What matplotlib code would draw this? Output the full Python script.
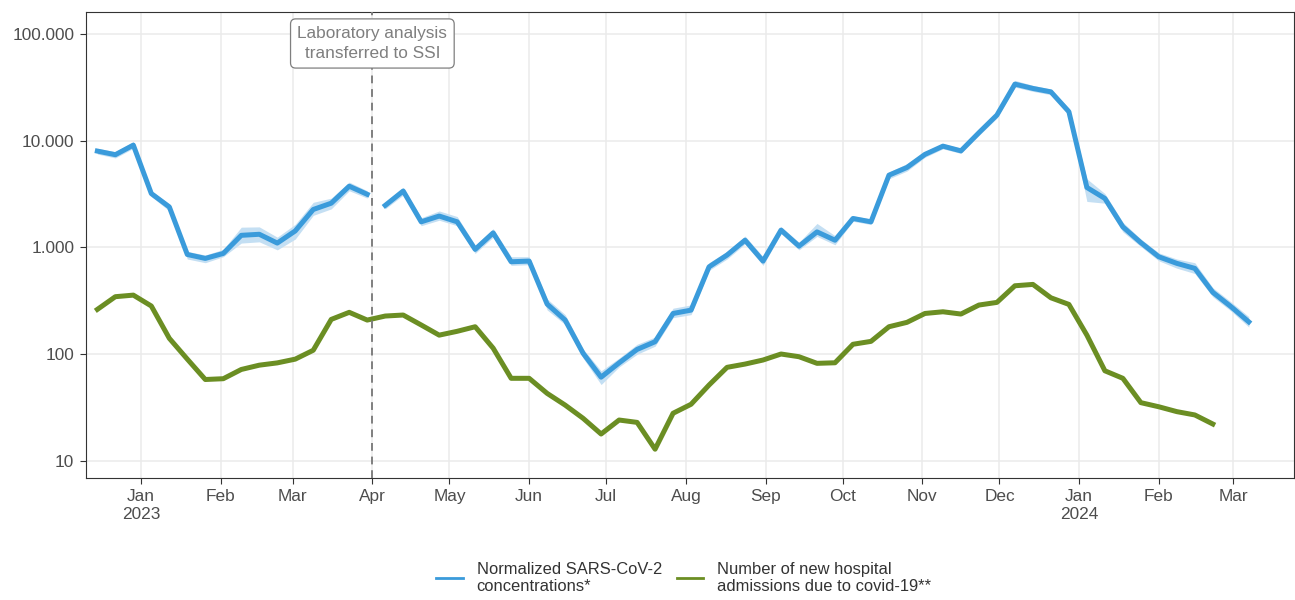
"""Wastewater SARS-CoV-2 concentrations vs. new covid-19 hospital admissions."""

import matplotlib
matplotlib.use("Agg")
import matplotlib.pyplot as plt
from matplotlib.lines import Line2D
import numpy as np
import pandas as pd

# weekly values (week midpoint, Thursdays)
first_week = "2022-12-15"
switch_date = pd.Timestamp("2023-04-01")

blue = [8000, 7400, 9100, 3200, 2400, 860, 790, 880, 1300, 1330, 1100, 1430,
        2270, 2600, 3750, 3150, 2480, 3380, 1740, 1970, 1740, 960, 1370, 735,
        746, 295, 209, 102, 61, 83, 111, 131, 241, 259, 659, 850, 1170, 746,
        1455, 1030, 1400, 1170, 1870, 1740, 4760, 5620, 7450, 8900, 8040,
        11900, 17400, 33900, 30900, 28700, 18700, 3650, 2880, 1560, 1110, 818,
        710, 637, 380, 280, 201]
blue_lo = [7500, 6900, 8500, 3000, 2200, 780, 720, 820, 1100, 1130, 950, 1200,
           2000, 2300, 3400, 2900, 2300, 3100, 1600, 1800, 1600, 880, 1250, 680,
           690, 260, 190, 92, 52, 76, 100, 119, 220, 235, 610, 780, 1080, 680,
           1350, 950, 1270, 1060, 1760, 1640, 4400, 5200, 7000, 8400, 7600,
           11200, 16300, 31800, 29000, 27000, 17300, 2700, 2600, 1400, 1020, 750,
           640, 570, 345, 255, 180]
blue_hi = [8500, 7900, 9800, 3400, 2550, 920, 850, 960, 1550, 1560, 1250, 1650,
           2650, 2900, 4100, 3400, 2650, 3650, 1900, 2200, 1950, 1050, 1500, 820,
           820, 330, 235, 112, 70, 92, 124, 145, 270, 290, 720, 920, 1280, 820,
           1570, 1120, 1680, 1290, 1980, 1850, 5100, 6100, 7900, 9400, 8500,
           12600, 18500, 36800, 33000, 30500, 20200, 4400, 3200, 1720, 1200, 890,
           780, 720, 420, 310, 225]

green = [263, 346, 358, 283, 141, 90, 58, 59, 72, 79, 83, 90, 109, 212, 247,
         209, 228, 233, 188, 151, 164, 181, 114, 59.5, 59.5, 43, 33.4, 25.1,
         17.9, 24.2, 23.0, 12.9, 28.0, 34.0, 51.5, 75.4, 80.9, 88.3, 100.5, 94.8,
         82.2, 83.2, 124, 132, 181, 199, 241, 250, 238, 289, 306, 438, 451, 338,
         293, 151, 70, 59.5, 35.2, 32.2, 29.0, 27.0, 22.2]

y_ticks = [10, 100, 1000, 10000, 100000]
y_labels = ["10", "100", "1.000", "10.000", "100.000"]

BLUE = "#3a9bdb"
BAND = "#c4dff3"
GREEN = "#6b8e23"
TXT = "#4d4d4d"

plt.rcParams["font.family"] = ["Liberation Sans", "DejaVu Sans"]


def main() -> None:
    dates_b = pd.date_range(first_week, periods=len(blue), freq="7D")
    dates_g = pd.date_range(first_week, periods=len(green), freq="7D")
    b = np.asarray(blue, dtype=float)
    lo = np.asarray(blue_lo, dtype=float)
    hi = np.asarray(blue_hi, dtype=float)

    fig = plt.figure(figsize=(12.95, 6.0), dpi=100)
    ax = fig.add_axes([86 / 1295, 1 - 478 / 600, 1 - 86 / 1295 - 1 / 1295, (478 - 12) / 600])

    before = dates_b < switch_date
    for m in (before, ~before):
        ax.fill_between(dates_b[m], lo[m], hi[m], color=BAND, lw=0, zorder=2)
        ax.plot(dates_b[m], b[m], color=BLUE, lw=3.6, zorder=3)
    ax.plot(dates_g, green, color=GREEN, lw=3.6, zorder=3)

    ax.axvline(switch_date, color="#7f7f7f", lw=1.4, ls=(0, (4, 3)), zorder=4)
    ax.text(switch_date, 81500, "Laboratory analysis\ntransferred to SSI",
            ha="center", va="center", fontsize=12.4, color="#7f7f7f", linespacing=1.45,
            zorder=5,
            bbox=dict(boxstyle="round,pad=0.4,rounding_size=0.3", fc="white",
                      ec="#7f7f7f", lw=0.9))

    ax.set_yscale("log")
    ax.set_ylim(6.93, 160700)
    ax.yaxis.set_major_locator(matplotlib.ticker.FixedLocator(y_ticks))
    ax.yaxis.set_major_formatter(matplotlib.ticker.FixedFormatter(y_labels))
    ax.yaxis.set_minor_locator(matplotlib.ticker.NullLocator())

    ax.set_xlim(pd.Timestamp("2022-12-10 14:00"), pd.Timestamp("2024-03-24 14:00"))
    months = pd.date_range("2023-01-01", "2024-03-01", freq="MS")
    ax.set_xticks(months)
    ax.set_xticklabels([m.strftime("%b") + ("\n%d" % m.year if m.month == 1 else "")
                        for m in months])

    ax.grid(True, color="#ebebeb", lw=1.1, zorder=0)
    ax.set_axisbelow(True)
    for s in ax.spines.values():
        s.set_color("#333333")
        s.set_linewidth(0.8)
    ax.tick_params(axis="both", colors="#333333", labelcolor=TXT, labelsize=12.4,
                   length=4, width=0.8, pad=4.5)
    ax.tick_params(axis="x", pad=4)

    handles = [Line2D([], [], color=BLUE, lw=2),
               Line2D([], [], color=GREEN, lw=2)]
    labels = ["Normalized SARS-CoV-2\nconcentrations*",
              "Number of new hospital\nadmissions due to covid-19**"]
    fig.legend(handles, labels, loc="lower center", bbox_to_anchor=(0.528, -0.015),
               ncol=2, frameon=False, fontsize=11.9, handlelength=1.58,
               handletextpad=0.85, columnspacing=0.9, labelspacing=0.2,
               labelcolor="#333333")

    fig.savefig("out.png", dpi=100)
    plt.close(fig)


if __name__ == "__main__":
    main()
